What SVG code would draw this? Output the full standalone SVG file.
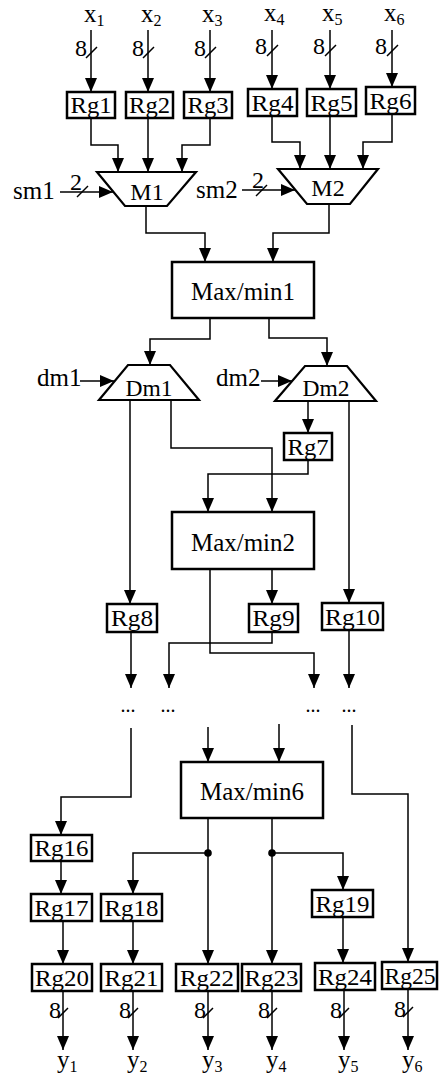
<svg xmlns="http://www.w3.org/2000/svg" width="439" height="1075" viewBox="0 0 439 1075">
<style>
text{font-family:"Liberation Serif","Times New Roman",serif;fill:#000}
.rg{fill:#fff;stroke:#000;stroke-width:2.5}
.big{fill:#fff;stroke:#000;stroke-width:2.5}
.tz{fill:#fff;stroke:#000;stroke-width:2.2}
.w{fill:none;stroke:#000;stroke-width:1.5}
.a{fill:none;stroke:#000;stroke-width:1.5;marker-end:url(#ah)}
.t{font-size:24px;text-anchor:middle}
.tb{font-size:26px;text-anchor:middle}
.lb{font-size:25px}
.n{font-size:24px;text-anchor:middle}
.s{font-size:16px}
.dot{font-size:20px;text-anchor:middle}
</style>
<defs>
<marker id="ah" markerUnits="userSpaceOnUse" markerWidth="14" markerHeight="12" refX="14" refY="6" orient="auto">
<path d="M0,0 L14,6 L0,12 z" fill="#000"/>
</marker>
</defs>

<g id="connectors">
<line class="a" x1="91" y1="30" x2="91" y2="92"/>
<line class="a" x1="148" y1="30" x2="148" y2="92"/>
<line class="a" x1="210" y1="30" x2="210" y2="92"/>
<line class="a" x1="272" y1="30" x2="272" y2="89"/>
<line class="a" x1="330" y1="30" x2="330" y2="89"/>
<line class="a" x1="392" y1="30" x2="392" y2="87"/>
<path class="w" d="M86,58 L97,47 M143,58 L154,47 M205,58 L216,47 M267,56 L278,45 M325,56 L336,45 M387,56 L398,45"/>
<polyline class="a" points="91,118 91,145 118,145 118,172"/>
<polyline class="a" points="148,118 148,172"/>
<polyline class="a" points="210,118 210,145 182,145 182,172"/>
<polyline class="a" points="272,116 272,142 300,142 300,169"/>
<polyline class="a" points="330,116 330,169"/>
<polyline class="a" points="392,114 392,142 363,142 363,169"/>
<line class="a" x1="60" y1="192" x2="113" y2="192"/>
<path class="w" d="M77,197 L88,186"/>
<line class="a" x1="242" y1="190" x2="295" y2="190"/>
<path class="w" d="M256,196 L267,185"/>
<polyline class="a" points="146,206 146,233 205,233 205,262"/>
<polyline class="a" points="329,204 329,233 273,233 273,262"/>
<polyline class="a" points="210,318 210,339 150,339 150,365"/>
<polyline class="a" points="269,318 269,338 327,338 327,366"/>
<line class="a" x1="80" y1="381" x2="114" y2="381"/>
<line class="a" x1="261" y1="381" x2="292" y2="381"/>
<line class="a" x1="130" y1="400" x2="130" y2="604"/>
<polyline class="a" points="171,400 171,448 272,448 272,512"/>
<line class="a" x1="308" y1="401" x2="308" y2="433"/>
<line class="a" x1="349" y1="401" x2="349" y2="603"/>
<polyline class="a" points="308,460 308,474 208,474 208,512"/>
<line class="a" x1="272" y1="569" x2="272" y2="604"/>
<polyline class="a" points="210,569 210,653 314,653 314,688"/>
<polyline class="a" points="272,632 272,643 169,643 169,688"/>
<line class="a" x1="131" y1="632" x2="131" y2="688"/>
<line class="a" x1="349" y1="630" x2="349" y2="688"/>
<polyline class="a" points="131,728 131,797 61,797 61,835"/>
<line class="a" x1="208" y1="727" x2="208" y2="762"/>
<line class="a" x1="279" y1="724" x2="279" y2="762"/>
<polyline class="a" points="352,725 352,794 408,794 408,962"/>
<line class="a" x1="61" y1="861" x2="61" y2="894"/>
<line class="a" x1="63" y1="921" x2="63" y2="964"/>
<line class="a" x1="208" y1="818" x2="208" y2="964"/>
<line class="a" x1="272" y1="818" x2="272" y2="964"/>
<polyline class="a" points="208,853 133,853 133,894"/>
<polyline class="a" points="272,853 343,853 343,890"/>
<circle cx="208" cy="853" r="3.8" fill="#000"/>
<circle cx="272" cy="853" r="3.8" fill="#000"/>
<line class="a" x1="133" y1="921" x2="133" y2="964"/>
<line class="a" x1="343" y1="917" x2="343" y2="963"/>
<line class="a" x1="63" y1="991" x2="63" y2="1050"/>
<line class="a" x1="133" y1="991" x2="133" y2="1050"/>
<line class="a" x1="208" y1="991" x2="208" y2="1050"/>
<line class="a" x1="272" y1="991" x2="272" y2="1050"/>
<line class="a" x1="344" y1="990" x2="344" y2="1050"/>
<line class="a" x1="408" y1="989" x2="408" y2="1050"/>
<path class="w" d="M58,1018 L68,1008 M128,1018 L138,1008 M203,1018 L213,1008 M267,1018 L277,1008 M339,1018 L349,1008 M403,1017 L413,1007"/>
</g>

<g id="labels">
<text class="lb" x="84" y="22">x<tspan class="s" dy="4">1</tspan></text>
<text class="lb" x="141" y="22">x<tspan class="s" dy="4">2</tspan></text>
<text class="lb" x="202" y="22">x<tspan class="s" dy="4">3</tspan></text>
<text class="lb" x="264" y="21">x<tspan class="s" dy="4">4</tspan></text>
<text class="lb" x="322" y="21">x<tspan class="s" dy="4">5</tspan></text>
<text class="lb" x="384" y="21">x<tspan class="s" dy="4">6</tspan></text>
<text class="n" x="81" y="56">8</text>
<text class="n" x="138" y="56">8</text>
<text class="n" x="200" y="56">8</text>
<text class="n" x="261" y="54">8</text>
<text class="n" x="319" y="54">8</text>
<text class="n" x="381" y="54">8</text>
<text class="lb" x="13" y="199">sm1</text>
<text class="n" x="76" y="190" font-size="21">2</text>
<text class="lb" x="196" y="198">sm2</text>
<text class="n" x="258" y="188" font-size="21">2</text>
<text class="lb" x="37" y="386">dm1</text>
<text class="lb" x="216" y="386">dm2</text>
<text class="dot" x="128" y="712">...</text>
<text class="dot" x="168" y="712">...</text>
<text class="dot" x="313" y="712">...</text>
<text class="dot" x="349" y="712">...</text>
<text class="n" x="55" y="1018">8</text>
<text class="n" x="125" y="1018">8</text>
<text class="n" x="200" y="1018">8</text>
<text class="n" x="264" y="1018">8</text>
<text class="n" x="336" y="1018">8</text>
<text class="n" x="400" y="1017">8</text>
<text class="lb" x="57" y="1068">y<tspan class="s" dy="4">1</tspan></text>
<text class="lb" x="127" y="1068">y<tspan class="s" dy="4">2</tspan></text>
<text class="lb" x="202" y="1068">y<tspan class="s" dy="4">3</tspan></text>
<text class="lb" x="266" y="1068">y<tspan class="s" dy="4">4</tspan></text>
<text class="lb" x="338" y="1068">y<tspan class="s" dy="4">5</tspan></text>
<text class="lb" x="402" y="1068">y<tspan class="s" dy="4">6</tspan></text>
</g>

<g id="Rg1"><rect class="rg" x="67" y="92" width="48" height="26"/><text class="t" x="91" y="113" textLength="41" lengthAdjust="spacingAndGlyphs">Rg1</text></g>
<g id="Rg2"><rect class="rg" x="126" y="92" width="47" height="26"/><text class="t" x="149.5" y="113" textLength="41" lengthAdjust="spacingAndGlyphs">Rg2</text></g>
<g id="Rg3"><rect class="rg" x="184" y="92" width="48" height="26"/><text class="t" x="208" y="113" textLength="41" lengthAdjust="spacingAndGlyphs">Rg3</text></g>
<g id="Rg4"><rect class="rg" x="248" y="89" width="49" height="27"/><text class="t" x="272.5" y="111" textLength="42" lengthAdjust="spacingAndGlyphs">Rg4</text></g>
<g id="Rg5"><rect class="rg" x="307" y="89" width="49" height="27"/><text class="t" x="331.5" y="111" textLength="42" lengthAdjust="spacingAndGlyphs">Rg5</text></g>
<g id="Rg6"><rect class="rg" x="366" y="87" width="49" height="27"/><text class="t" x="390.5" y="109" textLength="42" lengthAdjust="spacingAndGlyphs">Rg6</text></g>

<g id="M1"><polygon class="tz" points="97,172 196,172 167,206 125,206"/><text class="t" x="147" y="200">M1</text></g>
<g id="M2"><polygon class="tz" points="278,169 378,169 350,204 307,204"/><text class="t" x="328" y="196">M2</text></g>

<g id="MaxMin1"><rect class="big" x="172" y="262" width="142" height="56"/><text class="tb" x="243" y="300" textLength="104" lengthAdjust="spacingAndGlyphs">Max/min1</text></g>

<g id="Dm1"><polygon class="tz" points="128,365 170,365 199,400 99,400"/><text class="t" x="149" y="396" textLength="47" lengthAdjust="spacingAndGlyphs">Dm1</text></g>
<g id="Dm2"><polygon class="tz" points="305,366 347,366 376,401 275,401"/><text class="t" x="326" y="396" textLength="47" lengthAdjust="spacingAndGlyphs">Dm2</text></g>

<g id="Rg7"><rect class="rg" x="284" y="433" width="48" height="27"/><text class="t" x="308" y="455" textLength="41" lengthAdjust="spacingAndGlyphs">Rg7</text></g>

<g id="MaxMin2"><rect class="big" x="172" y="512" width="142" height="57"/><text class="tb" x="243" y="551" textLength="104" lengthAdjust="spacingAndGlyphs">Max/min2</text></g>

<g id="Rg8"><rect class="rg" x="107" y="604" width="50" height="28"/><text class="t" x="132" y="626" textLength="42" lengthAdjust="spacingAndGlyphs">Rg8</text></g>
<g id="Rg9"><rect class="rg" x="249" y="604" width="49" height="28"/><text class="t" x="273.5" y="626" textLength="42" lengthAdjust="spacingAndGlyphs">Rg9</text></g>
<g id="Rg10"><rect class="rg" x="322" y="603" width="61" height="27"/><text class="t" x="352.5" y="625" textLength="55" lengthAdjust="spacingAndGlyphs">Rg10</text></g>

<g id="MaxMin6"><rect class="big" x="181" y="762" width="142" height="56"/><text class="tb" x="252" y="800" textLength="104" lengthAdjust="spacingAndGlyphs">Max/min6</text></g>

<g id="Rg16"><rect class="rg" x="31" y="835" width="61" height="26"/><text class="t" x="61.5" y="856" textLength="54" lengthAdjust="spacingAndGlyphs">Rg16</text></g>
<g id="Rg17"><rect class="rg" x="31" y="894" width="61" height="27"/><text class="t" x="61.5" y="916" textLength="54" lengthAdjust="spacingAndGlyphs">Rg17</text></g>
<g id="Rg18"><rect class="rg" x="101" y="894" width="61" height="27"/><text class="t" x="131.5" y="916" textLength="54" lengthAdjust="spacingAndGlyphs">Rg18</text></g>
<g id="Rg19"><rect class="rg" x="312" y="890" width="61" height="27"/><text class="t" x="342.5" y="912" textLength="54" lengthAdjust="spacingAndGlyphs">Rg19</text></g>

<g id="Rg20"><rect class="rg" x="32" y="964" width="60" height="27"/><text class="t" x="62" y="986" textLength="54" lengthAdjust="spacingAndGlyphs">Rg20</text></g>
<g id="Rg21"><rect class="rg" x="101" y="964" width="61" height="27"/><text class="t" x="131.5" y="986" textLength="54" lengthAdjust="spacingAndGlyphs">Rg21</text></g>
<g id="Rg22"><rect class="rg" x="176" y="964" width="62" height="27"/><text class="t" x="207" y="986" textLength="54" lengthAdjust="spacingAndGlyphs">Rg22</text></g>
<g id="Rg23"><rect class="rg" x="242" y="964" width="59" height="27"/><text class="t" x="271.5" y="986" textLength="54" lengthAdjust="spacingAndGlyphs">Rg23</text></g>
<g id="Rg24"><rect class="rg" x="315" y="963" width="60" height="27"/><text class="t" x="345" y="985" textLength="54" lengthAdjust="spacingAndGlyphs">Rg24</text></g>
<g id="Rg25"><rect class="rg" x="382" y="962" width="55" height="27"/><text class="t" x="410" y="984" textLength="51" lengthAdjust="spacingAndGlyphs">Rg25</text></g>
</svg>
